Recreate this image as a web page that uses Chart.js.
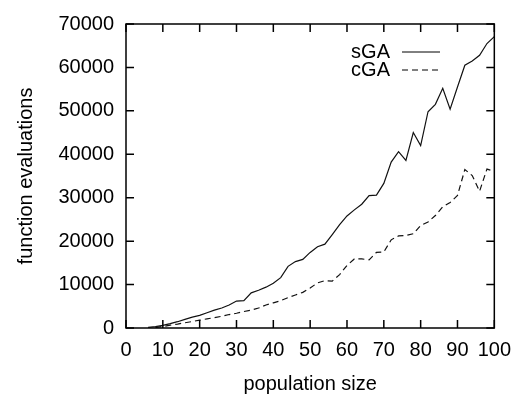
<!DOCTYPE html>
<html>
<head>
<meta charset="utf-8">
<script src="https://cdn.jsdelivr.net/npm/chart.js@4.4.1/dist/chart.umd.min.js"></script>
<style>
  html, body { margin: 0; padding: 0; background: #fff; }
  #wrap { width: 521px; height: 400px; }
</style>
</head>
<body>
<div id="wrap"><canvas id="evalChart"></canvas></div>
<script>
// population sizes (even steps) and evaluations per algorithm
const popSGA = [6, 8, 10, 12, 14, 16, 18, 20, 22, 24, 26, 28, 30, 32, 34, 36, 38, 40, 42, 44, 46, 48, 50,
  52, 54, 56, 58, 60, 62, 64, 66, 68, 70, 72, 74, 76, 78, 80, 82, 84, 86, 88, 90, 92, 94, 96, 98, 100];
const evalsSGA = [150, 300, 600, 1000, 1450, 2000, 2500, 2900, 3500, 4100, 4600, 5300, 6200, 6300, 8100,
  8700, 9400, 10300, 11600, 14200, 15300, 15800, 17400, 18700, 19300, 21500, 23800, 25800, 27200, 28500,
  30500, 30600, 33300, 38200, 40600, 38600, 45000, 42000, 49800, 51500, 55200, 50400, 55500, 60500,
  61500, 62800, 65500, 67100];

const popCGA = [8, 10, 12, 14, 16, 18, 20, 22, 24, 26, 28, 30, 32, 34, 36, 38, 40, 42, 44, 46, 48, 50,
  52, 54, 56, 58, 60, 62, 64, 66, 68, 70, 72, 74, 76, 78, 80, 82, 84, 86, 88, 90, 92, 94, 96, 98, 100];
const evalsCGA = [100, 350, 650, 900, 1200, 1500, 1800, 2100, 2400, 2700, 3100, 3400, 3800, 4100, 4600,
  5300, 5800, 6300, 7000, 7600, 8200, 9200, 10400, 10900, 10800, 12300, 14400, 15900, 15900, 15700,
  17400, 17500, 20300, 21200, 21300, 21700, 23600, 24400, 25900, 27900, 28900, 30500, 36500, 35100,
  31500, 36600, 36100];

const xTicks = [0, 10, 20, 30, 40, 50, 60, 70, 80, 90, 100];
const yTicks = [0, 10000, 20000, 30000, 40000, 50000, 60000, 70000];

const seriesNames = ['sGA', 'cGA'];
const FONT = 'Liberation Sans, Arial, Helvetica, sans-serif';
const FSIZE = 20;

const toXY = (xs, ys) => xs.map((x, i) => ({ x: x, y: ys[i] }));

// gnuplot-like frame: box around the plot plus inward ticks on all four sides
const frameTicks = {
  id: 'frameTicks',
  afterDraw(chart) {
    const { ctx, chartArea: a, scales } = chart;
    const len = 8;
    ctx.save();
    ctx.strokeStyle = '#000';
    ctx.lineWidth = 1.5;
    ctx.strokeRect(a.left, a.top, a.right - a.left, a.bottom - a.top);
    ctx.beginPath();
    xTicks.forEach(v => {
      const px = scales.x.getPixelForValue(v);
      ctx.moveTo(px, a.bottom); ctx.lineTo(px, a.bottom - len);
      ctx.moveTo(px, a.top); ctx.lineTo(px, a.top + len);
    });
    yTicks.forEach(v => {
      const py = scales.y.getPixelForValue(v);
      ctx.moveTo(a.left, py); ctx.lineTo(a.left + len, py);
      ctx.moveTo(a.right, py); ctx.lineTo(a.right - len, py);
    });
    ctx.stroke();

    // key in the top right corner
    const keyRight = 390, lineX0 = 402, lineX1 = 440;
    const rows = [52, 70];
    ctx.font = FSIZE + 'px ' + FONT;
    ctx.fillStyle = '#000';
    ctx.textAlign = 'right';
    ctx.textBaseline = 'middle';
    chart.data.datasets.forEach((ds, i) => {
      ctx.fillText(ds.label, keyRight, rows[i]);
      ctx.beginPath();
      ctx.lineWidth = 1;
      ctx.setLineDash(ds.borderDash || []);
      ctx.moveTo(lineX0, rows[i]); ctx.lineTo(lineX1, rows[i]);
      ctx.stroke();
    });
    ctx.restore();
  }
};

const ctx = document.getElementById('evalChart').getContext('2d');
const evalChart = new Chart(ctx, {
  type: 'line',
  data: {
    datasets: [{
      label: seriesNames[0],
      data: toXY(popSGA, evalsSGA),
      borderColor: '#111',
      borderWidth: 1.2,
      pointRadius: 0,
      tension: 0
    }, {
      label: seriesNames[1],
      data: toXY(popCGA, evalsCGA),
      borderColor: '#111',
      borderWidth: 1.2,
      borderDash: [6, 4],
      pointRadius: 0,
      tension: 0
    }]
  },
  options: {
    responsive: true,
    maintainAspectRatio: false,
    animation: false,
    layout: { padding: { top: 18, right: 20, left: 0, bottom: 0 } },
    plugins: {
      legend: { display: false },
      tooltip: { enabled: false }
    },
    scales: {
      x: {
        type: 'linear',
        min: 0,
        max: 100,
        afterBuildTicks: s => { s.ticks = xTicks.map(v => ({ value: v })); },
        afterFit: s => { s.height = 72; },
        grid: { display: false, drawTicks: false },
        border: { display: false },
        ticks: { color: '#000', font: { family: FONT, size: FSIZE }, padding: 10, maxRotation: 0, autoSkip: false,
          callback: v => String(v) },
        title: { display: true, text: 'population size', color: '#000', font: { family: FONT, size: FSIZE }, padding: { top: 6 } }
      },
      y: {
        type: 'linear',
        min: 0,
        max: 70000,
        afterBuildTicks: s => { s.ticks = yTicks.map(v => ({ value: v })); },
        afterFit: s => { s.width = 126; },
        grid: { display: false, drawTicks: false },
        border: { display: false },
        ticks: { color: '#000', font: { family: FONT, size: FSIZE }, padding: 12, autoSkip: false,
          callback: v => String(v) },
        title: { display: true, text: 'function evaluations', color: '#000', font: { family: FONT, size: FSIZE }, padding: { top: 14, bottom: 4 } }
      }
    }
  },
  plugins: [frameTicks]
});
</script>
</body>
</html>
